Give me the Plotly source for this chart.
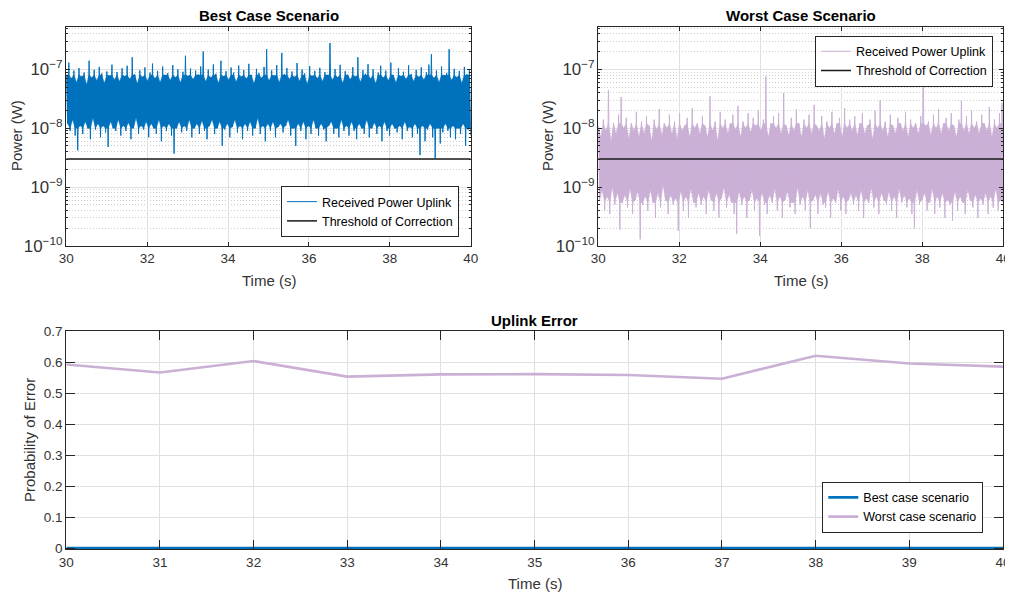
import numpy as np
import plotly.graph_objects as go

# ---------------- data ----------------
time_window = [30, 40]

# Best case: received power (nW) - successive peaks and troughs of the noisy trace
best_peak_nW = [
    80, 130, 70, 95, 60, 105, 75, 88, 55, 140,
    72, 98, 64, 110, 85, 58, 92, 78, 120, 66,
    90, 62, 104, 76, 115, 68, 160, 82, 57, 96,
    74, 108, 63, 88, 125, 70, 94, 60, 112, 79,
    86, 65, 118, 73, 100, 59, 91, 170, 77, 103,
    67, 95, 81, 112, 200, 62, 99, 72, 121, 84,
    58, 140, 76, 93, 66, 107, 88, 61, 116, 75,
    97, 69, 124, 80, 57, 102, 87, 71, 110, 220,
    64, 96, 78, 118, 60, 190, 83, 105, 68, 92,
    74, 128, 63, 99, 85, 56, 113, 77, 94, 70,
    106, 62, 90, 79, 280, 66, 101, 73, 119, 58,
    93, 81, 67, 109, 75, 160, 61, 97, 84, 122,
    69, 100, 57, 88, 115, 72, 95, 64, 130, 80,
    59, 104, 76, 91, 68, 117, 83, 62, 98, 74,
    108, 66, 89, 120, 180, 71, 96, 60, 112, 79,
    87, 220, 65, 102, 73, 94, 58, 110, 82, 100,
]
best_trough_nW = [
    12, 9, 14, 7.5, 4.2, 11, 8, 13, 10, 6.5,
    15, 9.5, 12, 7, 11, 8.5, 4.8, 13, 10, 9,
    14, 7.5, 11, 9, 12.5, 6.5, 10, 15, 8, 11,
    9.5, 13, 7, 12, 10, 8, 14, 6, 11, 9,
    12, 7.5, 3.7, 10, 13, 8.5, 11, 9, 14, 7,
    10, 12, 8, 13.5, 9, 6.5, 11, 14, 8, 10,
    13, 5, 9.5, 12, 7, 10.5, 14, 8.5, 11, 6.5,
    12, 9, 13, 7.5, 10, 15, 8, 11, 6, 12,
    9, 13, 7, 10.5, 12, 8.5, 11, 14, 7.5, 10,
    5, 12, 9, 13, 6.5, 11, 8, 14, 10, 7.5,
    12, 9.5, 6, 11, 13, 8, 10, 7, 14, 9,
    11, 7.5, 13, 9, 6.5, 12, 10, 8, 14, 7,
    10, 12.5, 8, 11, 6, 13, 9, 7.5, 12, 10,
    8.5, 11, 6.5, 13, 9, 10.5, 7, 12, 8, 3.5,
    11, 6, 9.5, 12, 7, 3.1, 10, 5.5, 8.5, 12,
    9, 7, 11, 6.5, 10, 8, 12, 5, 9.5, 7.5,
]

# Worst case: received power (nW)
worst_peak_nW = [
    11, 7, 14, 9, 44, 6, 12, 8, 17, 34,
    10, 15, 6.5, 12, 9, 19, 7, 13, 8, 16,
    11, 6, 14, 9.5, 21, 7.5, 12, 10, 17, 8,
    13, 6.5, 18, 9, 11, 15, 7, 22, 10, 12,
    8, 16, 11, 7, 35, 9, 13, 6, 19, 10,
    14, 8, 12, 17, 9.5, 24, 7, 13, 10, 18,
    8.5, 15, 11, 20, 9, 14, 76, 7, 12, 16,
    10, 18, 8, 40, 11, 7.5, 15, 9, 21, 12,
    7, 14, 10, 17, 8, 25, 11, 9, 16, 6.5,
    13, 10, 19, 8, 12, 15, 7, 22, 10, 14,
    9, 16, 7.5, 12, 18, 8, 11, 14, 6.5, 20,
    10, 30, 9, 13, 7, 17, 11, 8, 15, 12,
    9, 19, 7, 14, 10, 12, 8, 16, 60, 11,
    13, 7.5, 17, 10, 21, 8, 12, 15, 9, 18,
    11, 7, 14, 30, 9, 16, 8, 20, 10, 13,
    8, 17, 12, 9, 23, 7, 14, 10, 18, 27,
]
worst_trough_nW = [
    0.6, 0.9, 0.4, 0.7, 0.35, 1.0, 0.5, 0.8, 0.19, 0.55,
    0.75, 0.45, 0.95, 0.35, 0.6, 0.85, 0.13, 0.5, 0.7, 0.4,
    0.9, 0.55, 0.3, 0.8, 0.45, 1.1, 0.6, 0.35, 0.75, 0.5,
    0.65, 0.18, 0.85, 0.4, 0.7, 0.3, 0.95, 0.55, 0.45, 0.8,
    0.5, 0.7, 0.35, 0.9, 0.6, 0.4, 0.8, 0.3, 0.65, 1.0,
    0.45, 0.75, 0.55, 0.35, 0.16, 0.85, 0.5, 0.7, 0.3, 0.6,
    0.9, 0.4, 0.65, 0.15, 0.8, 0.5, 0.35, 0.75, 0.55, 0.95,
    0.4, 0.7, 0.3, 0.6, 0.85, 0.45, 0.55, 0.35, 1.0, 0.5,
    0.7, 0.4, 0.9, 0.2, 0.6, 0.75, 0.35, 0.8, 0.5, 0.45,
    0.85, 0.3, 0.65, 0.55, 0.95, 0.4, 0.7, 0.35, 0.6, 0.8,
    0.5, 0.75, 0.4, 0.9, 0.3, 0.65, 0.55, 1.0, 0.45, 0.7,
    0.35, 0.8, 0.6, 0.5, 0.85, 0.4, 0.7, 0.3, 0.95, 0.55,
    0.75, 0.45, 0.65, 0.35, 0.2, 0.9, 0.5, 0.6, 0.8, 0.4,
    0.55, 0.95, 0.35, 0.7, 0.45, 0.8, 0.3, 0.6, 0.5, 0.27,
    0.85, 0.4, 0.7, 0.55, 0.35, 0.9, 0.6, 0.45, 0.75, 0.3,
    0.65, 0.5, 0.8, 0.35, 0.7, 0.45, 0.95, 0.4, 0.6, 0.55,
]

# levels (nW) bounding the visually solid part of each noise band
best_solid_nW = [10, 80]
worst_solid_nW = [0.55, 12]

threshold_W = 3e-9

# Uplink error
error_times = [30, 31, 32, 33, 34, 35, 36, 37, 38, 39, 40]
best_error = [0, 0, 0, 0, 0, 0, 0, 0, 0, 0, 0]
worst_error = [0.592, 0.566, 0.603, 0.553, 0.560, 0.561, 0.558, 0.546, 0.620, 0.595, 0.585]

# ---------------- style ----------------
BLUE = "#0072BD"
PURPLE = "rgb(203,176,214)"
AX = "#262626"
TXT = "#333333"
FONT = "Liberation Sans, Arial, Helvetica, sans-serif"
NW = 1e-9

# page body has an 8px margin: figure is offset by 8px in the window
OFF = 8
W, H = 1013 - OFF, 593 - OFF


def fx(px):
    return (px - OFF) / W


def fy(py):
    return 1 - (py - OFF) / H


def sample_times(n):
    t = np.linspace(time_window[0], time_window[1], 2 * n)
    return t[0::2], t[1::2], t


fig = go.Figure()

panels = [
    ("x", "y", "legend", best_peak_nW, best_trough_nW, best_solid_nW, BLUE),
    ("x2", "y2", "legend2", worst_peak_nW, worst_trough_nW, worst_solid_nW, PURPLE),
]
for xa, ya, lg, pk, tr, solid, col in panels:
    pk_w = np.array(pk) * NW
    tr_w = np.array(tr) * NW
    t_pk, t_tr, t_all = sample_times(len(pk))
    # dense body of the trace: polygon through the (clipped) peaks and troughs
    up = np.minimum(pk_w, solid[1] * NW)
    lo = np.maximum(tr_w, solid[0] * NW)
    fig.add_trace(go.Scatter(x=np.concatenate([t_pk, t_tr[::-1]]),
                             y=np.concatenate([up, lo[::-1]]),
                             xaxis=xa, yaxis=ya, mode="lines", fill="toself",
                             fillcolor=col, line=dict(width=0.5, color=col),
                             showlegend=False, hoverinfo="skip"))
    # the trace itself, alternating peak / trough samples
    y_all = np.empty(2 * len(pk))
    y_all[0::2] = pk_w
    y_all[1::2] = tr_w
    fig.add_trace(go.Scatter(x=t_all, y=y_all, xaxis=xa, yaxis=ya, mode="lines",
                             line=dict(width=1.0, color=col),
                             name="Received Power Uplink", legend=lg))
    fig.add_trace(go.Scatter(x=time_window, y=[threshold_W, threshold_W], xaxis=xa, yaxis=ya,
                             mode="lines", line=dict(width=1.5, color="#1a1a1a"),
                             name="Threshold of Correction", legend=lg))

fig.add_trace(go.Scatter(x=error_times, y=best_error, xaxis="x3", yaxis="y3", mode="lines",
                         line=dict(width=2.6, color=BLUE), name="Best case scenario", legend="legend3"))
fig.add_trace(go.Scatter(x=error_times, y=worst_error, xaxis="x3", yaxis="y3", mode="lines",
                         line=dict(width=2.6, color=PURPLE), name="Worst case scenario", legend="legend3"))

top_dom_y = [fy(246), fy(26.7)]
bot_dom_y = [fy(549.3), fy(331)]

tickfont = dict(family=FONT, size=13.5, color=TXT)
common = dict(showline=True, linecolor=AX, linewidth=1, mirror="ticks", ticks="inside",
              tickcolor=AX, showgrid=True, gridcolor="#e0e0e0", gridwidth=1,
              zeroline=False, tickfont=tickfont, automargin=False)

log_y = dict(common, type="log", range=[-10, -6.276], dtick=1, exponentformat="power",
             ticklen=4,
             minor=dict(dtick="D1", ticks="inside", ticklen=2, tickcolor=AX,
                        showgrid=True, gridcolor="#cfcfcf", griddash="1px,2px", gridwidth=1))
top_x = dict(common, range=[30, 40], dtick=2, ticklen=4)

legend_style = dict(bgcolor="white", bordercolor=AX, borderwidth=1, traceorder="normal",
                    font=dict(family=FONT, size=12.5, color="black"), tracegroupgap=0)

fig.update_layout(
    template="none",
    width=W, height=H, margin=dict(l=0, r=0, t=0, b=0, autoexpand=False),
    paper_bgcolor="white", plot_bgcolor="white",
    font=dict(family=FONT, color=TXT),
    xaxis=dict(top_x, domain=[fx(66.3), fx(470.7)], anchor="y"),
    yaxis=dict(log_y, domain=top_dom_y, anchor="x"),
    xaxis2=dict(top_x, domain=[fx(598.3), fx(1003.3)], anchor="y2"),
    yaxis2=dict(log_y, domain=top_dom_y, anchor="x2"),
    xaxis3=dict(common, range=[30, 40], dtick=1, ticklen=9, domain=[fx(66.3), fx(1003)], anchor="y3"),
    yaxis3=dict(common, range=[-0.004, 0.7], tickvals=[0, 0.1, 0.2, 0.3, 0.4, 0.5, 0.6, 0.7],
                ticktext=["0", "0.1", "0.2", "0.3", "0.4", "0.5", "0.6", "0.7"],
                ticklen=9, domain=bot_dom_y, anchor="x3"),
    legend=dict(legend_style, x=fx(459), xanchor="right", y=fy(237), yanchor="bottom"),
    legend2=dict(legend_style, x=fx(993), xanchor="right", y=fy(35.7), yanchor="top"),
    legend3=dict(legend_style, x=fx(983.3), xanchor="right", y=fy(532.7), yanchor="bottom"),
)

title_font = dict(family=FONT, size=15, color="black")
label_font = dict(family=FONT, size=15, color=TXT)
annots = [
    dict(text="<b>Best Case Scenario</b>", x=fx(268.5), y=fy(16), font=title_font),
    dict(text="<b>Worst Case Scenario</b>", x=fx(800.8), y=fy(16), font=title_font),
    dict(text="<b>Uplink Error</b>", x=fx(534.6), y=fy(320), font=title_font),
    dict(text="Time (s)", x=fx(268.5), y=fy(280), font=label_font),
    dict(text="Time (s)", x=fx(800.8), y=fy(280), font=label_font),
    dict(text="Time (s)", x=fx(534.6), y=fy(583), font=label_font),
    dict(text="Power (W)", x=fx(16), y=fy(136), font=label_font, textangle=-90),
    dict(text="Power (W)", x=fx(547), y=fy(136), font=label_font, textangle=-90),
    dict(text="Probability of Error", x=fx(29), y=fy(440), font=label_font, textangle=-90),
]
for a in annots:
    fig.add_annotation(xref="paper", yref="paper", showarrow=False,
                       xanchor="center", yanchor="middle", **a)

fig.write_html("out.html")
